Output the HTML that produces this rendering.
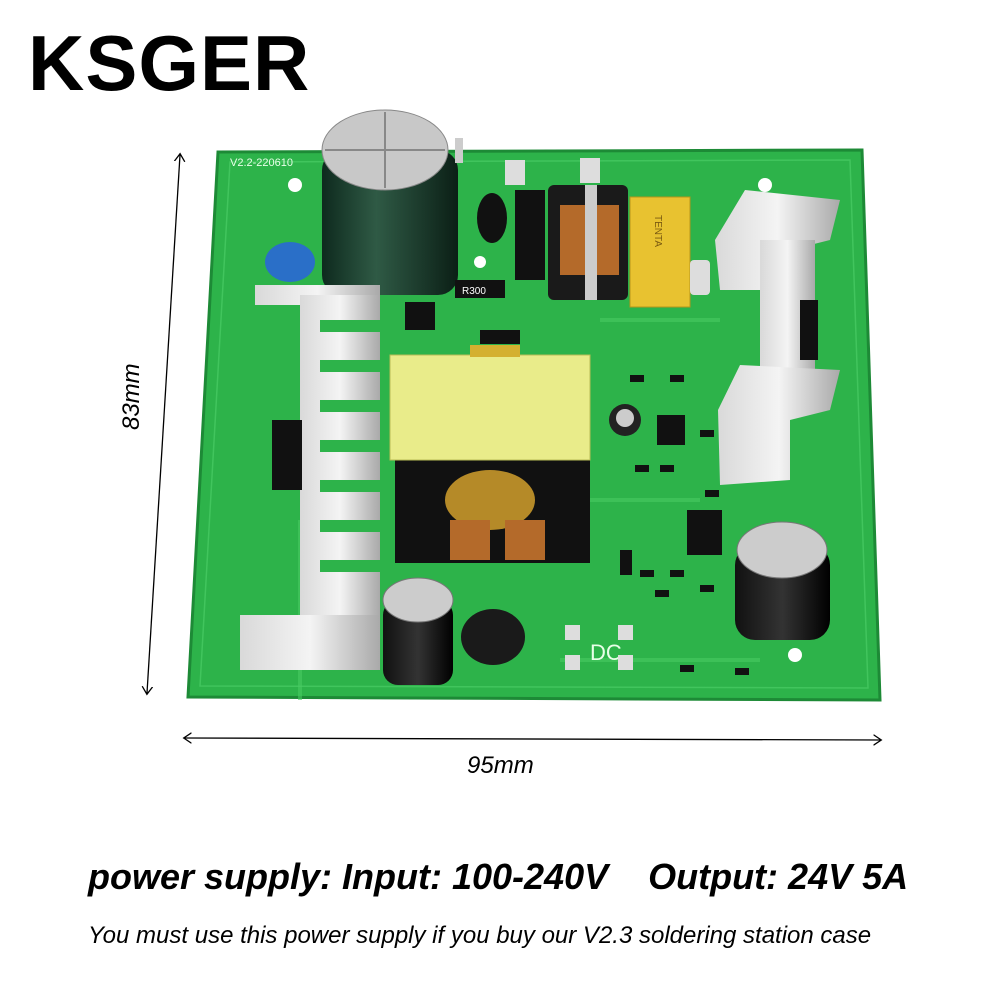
<!DOCTYPE html>
<html><head><meta charset="utf-8"><style>
html,body{margin:0;padding:0;background:#fff;}
body{width:1000px;height:1000px;position:relative;overflow:hidden;font-family:"Liberation Sans",sans-serif;}
.t{position:absolute;white-space:nowrap;color:#000;}
</style></head><body>
<div class="t" style="left:28px;top:18px;font-size:78px;font-weight:bold;letter-spacing:1px;">KSGER</div>
<svg width="1000" height="1000" style="position:absolute;left:0;top:0">
<defs>
<linearGradient id="hs" x1="0" x2="1"><stop offset="0" stop-color="#d9d9d9"/><stop offset=".5" stop-color="#f4f4f4"/><stop offset="1" stop-color="#a9a9a9"/></linearGradient>
<linearGradient id="cap" x1="0" x2="1"><stop offset="0" stop-color="#0e2a1e"/><stop offset=".4" stop-color="#2f5a45"/><stop offset="1" stop-color="#0b1f16"/></linearGradient>
<linearGradient id="ecap" x1="0" x2="1"><stop offset="0" stop-color="#111"/><stop offset=".5" stop-color="#333"/><stop offset="1" stop-color="#000"/></linearGradient>
<marker id="a" markerWidth="10" markerHeight="10" refX="5" refY="5" orient="auto-start-reverse"><path d="M0,1 L6,5 L0,9" fill="none" stroke="#000" stroke-width="1"/></marker>
</defs>
<line x1="180" y1="155" x2="147" y2="693" stroke="#000" stroke-width="1.3" marker-start="url(#a)" marker-end="url(#a)"/>
<line x1="185" y1="738" x2="880" y2="740" stroke="#000" stroke-width="1.3" marker-start="url(#a)" marker-end="url(#a)"/>
<polygon points="218,152 862,150 880,700 188,697" fill="#2db34a" stroke="#1d8a36" stroke-width="3"/>
<polygon points="230,162 850,160 868,688 200,686" fill="none" stroke="#4fd06a" stroke-width="1.5" opacity=".6"/>
<path d="M300,700 L300,520 M560,660 L760,660 M600,320 L720,320 M540,500 L700,500" stroke="#48c962" stroke-width="4" fill="none" opacity=".6"/>
<circle cx="295" cy="185" r="7" fill="#fff"/><circle cx="765" cy="185" r="7" fill="#fff"/>
<circle cx="275" cy="660" r="7" fill="#fff"/><circle cx="795" cy="655" r="7" fill="#fff"/>
<circle cx="480" cy="262" r="6" fill="#fff"/>
<text x="230" y="166" font-size="11" fill="#e8ffe8" font-family="Liberation Sans">V2.2-220610</text>
<text x="590" y="660" font-size="22" fill="#e8ffe8" font-family="Liberation Sans">DC</text>
<rect x="505" y="160" width="20" height="25" fill="#ddd"/><rect x="580" y="158" width="20" height="25" fill="#ddd"/>
<rect x="565" y="625" width="15" height="15" fill="#ddd"/><rect x="565" y="655" width="15" height="15" fill="#ddd"/>
<rect x="618" y="625" width="15" height="15" fill="#ddd"/><rect x="618" y="655" width="15" height="15" fill="#ddd"/>
<ellipse cx="290" cy="262" rx="25" ry="20" fill="#2a6fc8"/>
<rect x="322" y="150" width="136" height="145" rx="20" fill="url(#cap)"/>
<ellipse cx="385" cy="150" rx="63" ry="40" fill="#c8c8c8" stroke="#888"/>
<path d="M385,112 L385,188 M325,150 L445,150" stroke="#888" stroke-width="2"/>
<rect x="455" y="138" width="8" height="25" fill="#ccc"/>
<ellipse cx="492" cy="218" rx="15" ry="25" fill="#111"/>
<rect x="515" y="190" width="30" height="90" fill="#111"/>
<rect x="455" y="280" width="50" height="18" fill="#111"/><text x="462" y="294" font-size="10" fill="#fff">R300</text>
<rect x="405" y="302" width="30" height="28" fill="#111"/>
<rect x="480" y="330" width="40" height="14" fill="#111"/>
<rect x="548" y="185" width="80" height="115" rx="6" fill="#1a1a1a"/>
<rect x="560" y="205" width="25" height="70" fill="#b46a2a"/><rect x="597" y="205" width="22" height="70" fill="#b46a2a"/>
<rect x="585" y="185" width="12" height="115" fill="#ccc"/>
<rect x="630" y="197" width="60" height="110" fill="#e8c230" stroke="#b8951a"/>
<text x="655" y="215" font-size="10" fill="#7a5a10" transform="rotate(90 655 215)">TENTA</text>
<rect x="690" y="260" width="20" height="35" fill="#ddd" rx="4"/>
<polygon points="745,190 840,200 830,240 790,250 790,290 720,290 715,240" fill="url(#hs)"/>
<rect x="760" y="240" width="55" height="140" fill="url(#hs)"/>
<polygon points="740,365 840,370 830,410 790,420 790,480 720,485 718,410" fill="url(#hs)"/>
<rect x="800" y="300" width="18" height="60" fill="#111"/>
<rect x="255" y="285" width="125" height="20" fill="url(#hs)"/>
<rect x="300" y="295" width="80" height="330" fill="url(#hs)"/>
<rect x="240" y="615" width="140" height="55" fill="url(#hs)"/>
<g fill="#2db34a"><rect x="320" y="320" width="60" height="12"/><rect x="320" y="360" width="60" height="12"/><rect x="320" y="400" width="60" height="12"/><rect x="320" y="440" width="60" height="12"/><rect x="320" y="480" width="60" height="12"/><rect x="320" y="520" width="60" height="12"/><rect x="320" y="560" width="60" height="12"/></g>
<rect x="272" y="420" width="30" height="70" fill="#111"/>
<rect x="395" y="448" width="195" height="115" fill="#111"/>
<ellipse cx="490" cy="500" rx="45" ry="30" fill="#b58a28"/>
<rect x="450" y="520" width="40" height="40" fill="#b46a2a"/>
<rect x="505" y="520" width="40" height="40" fill="#b46a2a"/>
<rect x="390" y="355" width="200" height="105" fill="#e9ec8a" stroke="#b9bd55"/>
<rect x="470" y="345" width="50" height="12" fill="#d4b030"/>
<circle cx="625" cy="420" r="16" fill="#222"/><circle cx="625" cy="418" r="9" fill="#ccc"/>
<rect x="657" y="415" width="28" height="30" fill="#111"/>
<rect x="687" y="510" width="35" height="45" fill="#111"/>
<g fill="#111"><rect x="630" y="375" width="14" height="7"/><rect x="670" y="375" width="14" height="7"/><rect x="700" y="430" width="14" height="7"/><rect x="705" y="490" width="14" height="7"/><rect x="635" y="465" width="14" height="7"/><rect x="660" y="465" width="14" height="7"/><rect x="655" y="590" width="14" height="7"/><rect x="640" y="570" width="14" height="7"/><rect x="670" y="570" width="14" height="7"/><rect x="700" y="585" width="14" height="7"/><rect x="680" y="665" width="14" height="7"/><rect x="735" y="668" width="14" height="7"/><rect x="620" y="550" width="12" height="25"/></g>
<rect x="383" y="600" width="70" height="85" rx="15" fill="url(#ecap)"/>
<ellipse cx="418" cy="600" rx="35" ry="22" fill="#ccc" stroke="#777"/>
<rect x="735" y="545" width="95" height="95" rx="20" fill="url(#ecap)"/>
<ellipse cx="782" cy="550" rx="45" ry="28" fill="#ccc" stroke="#777"/>
<ellipse cx="493" cy="637" rx="32" ry="28" fill="#1a1a1a"/>
</svg>
<div class="t" style="left:118px;top:430px;font-size:24px;font-style:italic;transform:rotate(-90deg);transform-origin:left top;">83mm</div>
<div class="t" style="left:467px;top:752px;font-size:24px;font-style:italic;">95mm</div>
<div class="t" style="left:88px;top:856px;font-size:36px;font-style:italic;font-weight:bold;">power supply: Input: 100-240V&nbsp;&nbsp;&nbsp;&nbsp;Output: 24V 5A</div>
<div class="t" style="left:88px;top:922px;font-size:24px;font-style:italic;">You must use this power supply if you buy our V2.3 soldering station case</div>
</body></html>
